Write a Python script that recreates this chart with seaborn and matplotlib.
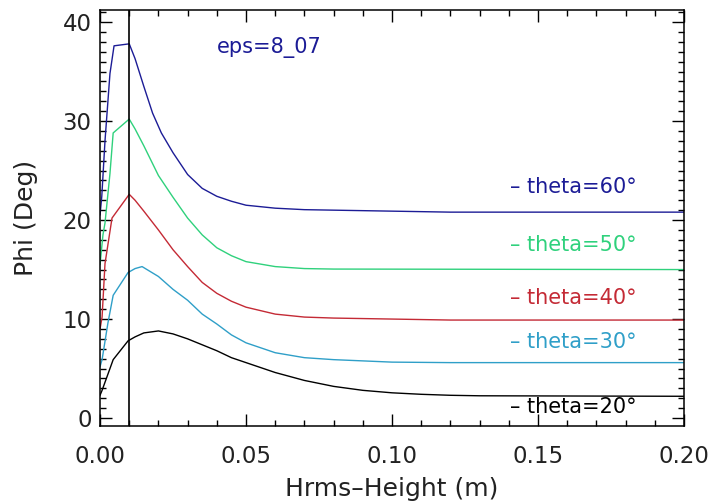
import numpy as np
import pandas as pd
import seaborn as sns
import matplotlib.pyplot as plt
from matplotlib.ticker import MultipleLocator

# --- dados ---
x_60 = [0.0, 0.0006, 0.0017, 0.0027, 0.0034, 0.0048, 0.0100, 0.012, 0.015, 0.018, 0.021, 0.025, 0.030,
        0.035, 0.040, 0.045, 0.050, 0.060, 0.070, 0.080, 0.12, 0.20]
phi_60 = [20.5, 22.4, 28.0, 32.0, 34.8, 37.6, 37.8, 36.3, 33.5, 30.8, 28.8, 26.8, 24.6,
          23.2, 22.4, 21.9, 21.5, 21.2, 21.05, 21.0, 20.8, 20.8]

x_50 = [0.0, 0.0010, 0.0017, 0.0034, 0.0045, 0.0100, 0.012, 0.015, 0.020, 0.025, 0.030, 0.035,
        0.040, 0.045, 0.050, 0.060, 0.070, 0.080, 0.20]
phi_50 = [15.5, 18.5, 19.7, 24.7, 28.8, 30.2, 29.2, 27.5, 24.5, 22.3, 20.2, 18.5,
          17.2, 16.4, 15.8, 15.3, 15.1, 15.05, 15.0]

x_40 = [0.0, 0.0007, 0.0017, 0.0041, 0.0100, 0.012, 0.015, 0.020, 0.025, 0.030, 0.035, 0.040,
        0.045, 0.050, 0.060, 0.070, 0.080, 0.12, 0.20]
phi_40 = [9.0, 10.2, 15.6, 20.2, 22.6, 22.0, 20.9, 19.0, 17.0, 15.3, 13.7, 12.6,
          11.8, 11.2, 10.5, 10.2, 10.1, 9.9, 9.9]

x_30 = [0.0, 0.0007, 0.0027, 0.0045, 0.0096, 0.012, 0.0144, 0.020, 0.025, 0.030, 0.035, 0.040,
        0.045, 0.050, 0.060, 0.070, 0.080, 0.10, 0.12, 0.20]
phi_30 = [5.2, 5.9, 9.6, 12.4, 14.7, 15.1, 15.3, 14.3, 13.0, 11.9, 10.5, 9.5,
          8.4, 7.6, 6.6, 6.1, 5.9, 5.65, 5.6, 5.6]

x_20 = [0.0, 0.0007, 0.0045, 0.0096, 0.012, 0.015, 0.020, 0.025, 0.030, 0.035, 0.040, 0.045,
        0.050, 0.055, 0.060, 0.070, 0.080, 0.090, 0.100, 0.110, 0.120, 0.130, 0.20]
phi_20 = [2.3, 2.8, 5.9, 7.8, 8.2, 8.6, 8.8, 8.5, 8.0, 7.4, 6.8, 6.1,
          5.6, 5.1, 4.6, 3.8, 3.2, 2.8, 2.55, 2.4, 2.3, 2.25, 2.2]

thetas = ['60', '50', '40', '30', '20']
cores = ['#1c1c96', '#2fd17c', '#c42a35', '#2f9fc8', '#000000']
label_y = [23.3, 17.5, 12.1, 7.7, 1.1]

series = [(x_60, phi_60), (x_50, phi_50), (x_40, phi_40), (x_30, phi_30), (x_20, phi_20)]

sns.set_style('ticks')
plt.rcParams['font.family'] = ['DejaVu Sans']
plt.rcParams['xtick.direction'] = 'in'
plt.rcParams['ytick.direction'] = 'in'
plt.rcParams['text.color'] = '#222222'
plt.rcParams['axes.labelcolor'] = '#222222'
plt.rcParams['xtick.labelcolor'] = '#222222'
plt.rcParams['ytick.labelcolor'] = '#222222'

fig = plt.figure(figsize=(7.13, 5.04), dpi=100)
ax = fig.add_axes([0.1403, 0.1548, 0.819, 0.825])

for (xs, ys), cor in zip(series, cores):
    df = pd.DataFrame({'H': xs, 'Phi': ys})
    sns.lineplot(data=df, x='H', y='Phi', color=cor, linewidth=1.0,
                 estimator=None, sort=False, ax=ax)

ax.axvline(0.01, color='black', linewidth=1.2)

ax.set_xlim(0, 0.2)
ax.set_ylim(-0.8, 41.2)
ax.xaxis.set_major_locator(MultipleLocator(0.05))
ax.xaxis.set_minor_locator(MultipleLocator(0.01))
ax.yaxis.set_major_locator(MultipleLocator(10))
ax.yaxis.set_minor_locator(MultipleLocator(1))
ax.xaxis.set_major_formatter(plt.FuncFormatter(lambda v, p: f'{v:.2f}'))
ax.tick_params(which='both', top=True, right=True, color='black', width=1.0)
ax.tick_params(which='major', length=8.5, labelsize=16.5)
ax.tick_params(which='minor', length=4.5)
ax.tick_params(axis='x', pad=14)
ax.tick_params(axis='y', pad=6)
for s in ax.spines.values():
    s.set_linewidth(1.1)
    s.set_color('black')

ax.set_xlabel('Hrms\u2013Height (m)', fontsize=18, labelpad=6)
ax.set_ylabel('Phi (Deg)', fontsize=18, labelpad=18)

for t, cor, yy in zip(thetas, cores, label_y):
    ax.text(0.1405, yy, f'\u2013 theta={t}\u00b0', color=cor, fontsize=15,
            va='center', ha='left')

ax.text(0.0400, 37.4, 'eps=8_07', color='#1c1c96',
        fontsize=15, va='center', ha='left')

fig.savefig('out.png', dpi=100)
